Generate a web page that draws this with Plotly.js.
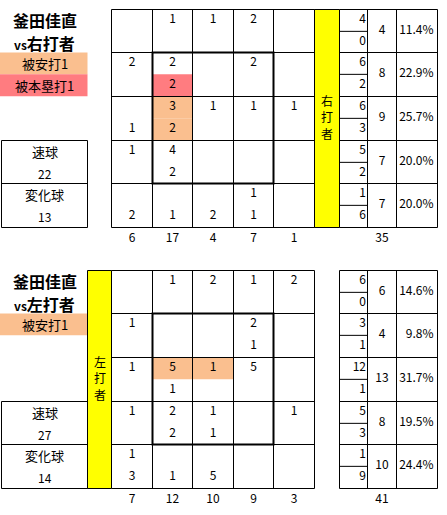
<!DOCTYPE html>
<html>
<head>
<meta charset="utf-8">
<script src="https://cdn.plot.ly/plotly-3.0.1.min.js"></script>
<style>html,body{margin:0;padding:0;overflow:hidden;background:#fff}</style>
</head>
<body>
<div id="chart" style="width:447px;height:515px"></div>
<script>
const pitcher = "釜田佳直";
const pitchNames = ["速球", "変化球"];

// vs 右打者 : upper number = fastball, lower number = breaking ball
const rSide = "右打者";
const rFast = [[null,1,1,2,null],[2,2,null,2,null],[null,3,1,1,1],[1,4,null,null,null],[null,null,null,1,null]];
const rBreak = [[null,null,null,null,null],[null,2,null,null,null],[1,2,null,null,null],[null,2,null,null,null],[2,1,2,1,null]];
const rColTotals = [6,17,4,7,1];
const rRowFast = [4,6,6,5,1];
const rRowBreak = [0,2,3,2,6];
const rRowTotals = [4,8,9,7,7];
const rRowPct = ["11.4%","22.9%","25.7%","20.0%","20.0%"];
const rTotal = 35;
const rPitchTotals = [22,13];
const rMarks = ["被安打1","被本塁打1"];
const rHits = [[2,1,0],[2,1,1]];   // row, col, sub-row
const rHomers = [[1,1,1]];

// vs 左打者
const lSide = "左打者";
const lFast = [[null,1,2,1,2],[1,null,null,2,null],[1,5,1,5,null],[1,2,1,null,1],[1,null,null,null,null]];
const lBreak = [[null,null,null,null,null],[null,null,null,1,null],[null,1,null,null,null],[null,2,1,null,null],[3,1,5,null,null]];
const lColTotals = [7,12,10,9,3];
const lRowFast = [6,3,12,5,1];
const lRowBreak = [0,1,1,3,9];
const lRowTotals = [6,4,13,8,10];
const lRowPct = ["14.6%","9.8%","31.7%","19.5%","24.4%"];
const lTotal = 41;
const lPitchTotals = [27,14];
const lMarks = ["被安打1"];
const lHits = [[2,1,0],[2,2,0]];
const lHomers = [];

const HIT = "#FABF8F", HR = "#FF7C80", BAND = "#FFFF00";
const FONT = "Noto Sans CJK JP, sans-serif";

const panels = [
  {py: 0, side: rSide, fast: rFast, brk: rBreak, colT: rColTotals, rowF: rRowFast, rowB: rRowBreak,
   rowT: rRowTotals, pct: rRowPct, total: rTotal, pt: rPitchTotals, marks: rMarks, hits: rHits, homers: rHomers, bandRight: true},
  {py: 261, side: lSide, fast: lFast, brk: lBreak, colT: lColTotals, rowF: lRowFast, rowB: lRowBreak,
   rowT: lRowTotals, pct: lRowPct, total: lTotal, pt: lPitchTotals, marks: lMarks, hits: lHits, homers: lHomers, bandRight: false}
];

const GX0 = 111, CW = 40.6, GY0 = 8.5, RH = 43.7;
const colX = i => Math.round(GX0 + i * CW) + 0.5;
const rowY = (py, j) => Math.round(py + GY0 + j * RH) + 0.5;
const BX = [339.5, 367.5, 396.5, 437.5];   // right summary box
const LX = [1.5, 87.5];                      // left pitch box

const traces = [];
const shapes = [];
const annotations = [];

function line(x0, y0, x1, y1, w) {
  shapes.push({type: "line", xref: "x", yref: "y", x0, y0, x1, y1, line: {color: "#000", width: w || 1}});
}
function fill(x0, y0, x1, y1, c) {
  shapes.push({type: "rect", xref: "x", yref: "y", x0, y0, x1, y1, fillcolor: c, line: {width: 0}, layer: "below"});
}
function label(x, y, text, size, anchor) {
  annotations.push({xref: "x", yref: "y", x, y, text, showarrow: false, xanchor: anchor || "center",
    yanchor: "middle", font: {family: FONT, size: size || 12, color: "#000"}});
}

panels.forEach(p => {
  const py = p.py;
  const top = rowY(py, 0), bot = rowY(py, 5);
  const sub = (j, s) => rowY(py, j) + RH * (s ? 0.75 : 0.25);
  const cx = i => (colX(i) + colX(i + 1)) / 2;

  // highlighted cells
  p.hits.forEach(([j, i, s]) => fill(colX(i), rowY(py, j) + s * RH / 2, colX(i + 1), rowY(py, j) + (s + 1) * RH / 2, HIT));
  p.homers.forEach(([j, i, s]) => fill(colX(i), rowY(py, j) + s * RH / 2, colX(i + 1), rowY(py, j) + (s + 1) * RH / 2, HR));

  // yellow batter band, text stacked one character per line
  const band = p.bandRight ? [colX(5), BX[0]] : [LX[1], colX(0)];
  fill(band[0], top, band[1], bot, BAND);
  const chars = p.side.split("");
  const mid = (top + bot) / 2 - 2;
  chars.forEach((ch, k) => label((band[0] + band[1]) / 2, mid + (k - 1) * 16.5, ch, 12));
  line(band[0], top, band[1], top);
  line(band[0], bot, band[1], bot);
  line(band[0], top, band[0], bot);

  // 5x5 grid
  for (let i = 0; i <= 5; i++) line(colX(i), top, colX(i), bot);
  for (let j = 0; j <= 5; j++) line(colX(0), rowY(py, j), colX(5), rowY(py, j));
  shapes.push({type: "rect", xref: "x", yref: "y", x0: colX(1), y0: rowY(py, 1), x1: colX(4), y1: rowY(py, 4),
    line: {color: "#000", width: 2}});

  // cell counts
  const cxs = [], cys = [], cts = [];
  for (let j = 0; j < 5; j++) for (let i = 0; i < 5; i++) {
    if (p.fast[j][i] != null) { cxs.push(cx(i)); cys.push(sub(j, 0)); cts.push(String(p.fast[j][i])); }
    if (p.brk[j][i] != null) { cxs.push(cx(i)); cys.push(sub(j, 1)); cts.push(String(p.brk[j][i])); }
  }
  p.colT.forEach((v, i) => { cxs.push(cx(i)); cys.push(bot + 11); cts.push(String(v)); });
  p.rowT.forEach((v, j) => { cxs.push((BX[1] + BX[2]) / 2); cys.push(rowY(py, j) + RH / 2); cts.push(String(v)); });
  cxs.push((BX[1] + BX[2]) / 2); cys.push(bot + 11); cts.push(String(p.total));
  traces.push({type: "scatter", mode: "text", x: cxs, y: cys, text: cts, textposition: "middle center",
    textfont: {family: FONT, size: 12, color: "#000"}, hoverinfo: "skip", showlegend: false});

  // right summary box
  const rxs = [], rys = [], rts = [];
  for (let j = 0; j < 5; j++) {
    rxs.push(BX[1] - 1.5, BX[1] - 1.5, BX[3] - 4);
    rys.push(sub(j, 0), sub(j, 1), rowY(py, j) + RH / 2);
    rts.push(String(p.rowF[j]), String(p.rowB[j]), p.pct[j]);
    line(BX[0], rowY(py, j) + RH / 2, BX[1], rowY(py, j) + RH / 2);
  }
  traces.push({type: "scatter", mode: "text", x: rxs, y: rys, text: rts, textposition: "middle left",
    textfont: {family: FONT, size: 12, color: "#000"}, marker: {size: 1}, hoverinfo: "skip", showlegend: false});
  for (let j = 0; j <= 5; j++) line(BX[0], rowY(py, j), BX[3], rowY(py, j));
  BX.forEach(x => line(x, top, x, bot));

  // left side: titles, marks, pitch-type box
  label(44.5, py + 20, "<b>" + pitcher + "</b>", 16);
  label(44.5, py + 43, "<b><span style='font-size:12px'>vs</span>" + p.side + "</b>", 16);
  const mcol = [HIT, HR];
  p.marks.forEach((m, k) => {
    const y0 = rowY(py, 1) + k * RH / 2;
    fill(0, y0, LX[1], y0 + RH / 2, mcol[k]);
    label(44.5, y0 + RH / 4, m, 13);
  });
  const b0 = rowY(py, 3), b1 = rowY(py, 4), b2 = rowY(py, 5);
  shapes.push({type: "rect", xref: "x", yref: "y", x0: LX[0], y0: b0, x1: LX[1], y1: b2, line: {color: "#000", width: 1}});
  line(LX[0], b1, LX[1], b1);
  label(44.5, b0 + RH / 4, pitchNames[0], 13);
  label(44.5, b0 + RH * 0.75, String(p.pt[0]), 12);
  label(44.5, b1 + RH / 4, pitchNames[1], 13);
  label(44.5, b1 + RH * 0.75, String(p.pt[1]), 12);
});

const layout = {
  width: 447, height: 515,
  margin: {l: 0, r: 0, t: 0, b: 0, pad: 0},
  paper_bgcolor: "#fff", plot_bgcolor: "#fff",
  xaxis: {range: [0, 447], visible: false, fixedrange: true},
  yaxis: {range: [515, 0], visible: false, fixedrange: true},
  shapes, annotations, showlegend: false
};

Plotly.newPlot("chart", traces, layout, {displayModeBar: false, staticPlot: true});
</script>
</body>
</html>
